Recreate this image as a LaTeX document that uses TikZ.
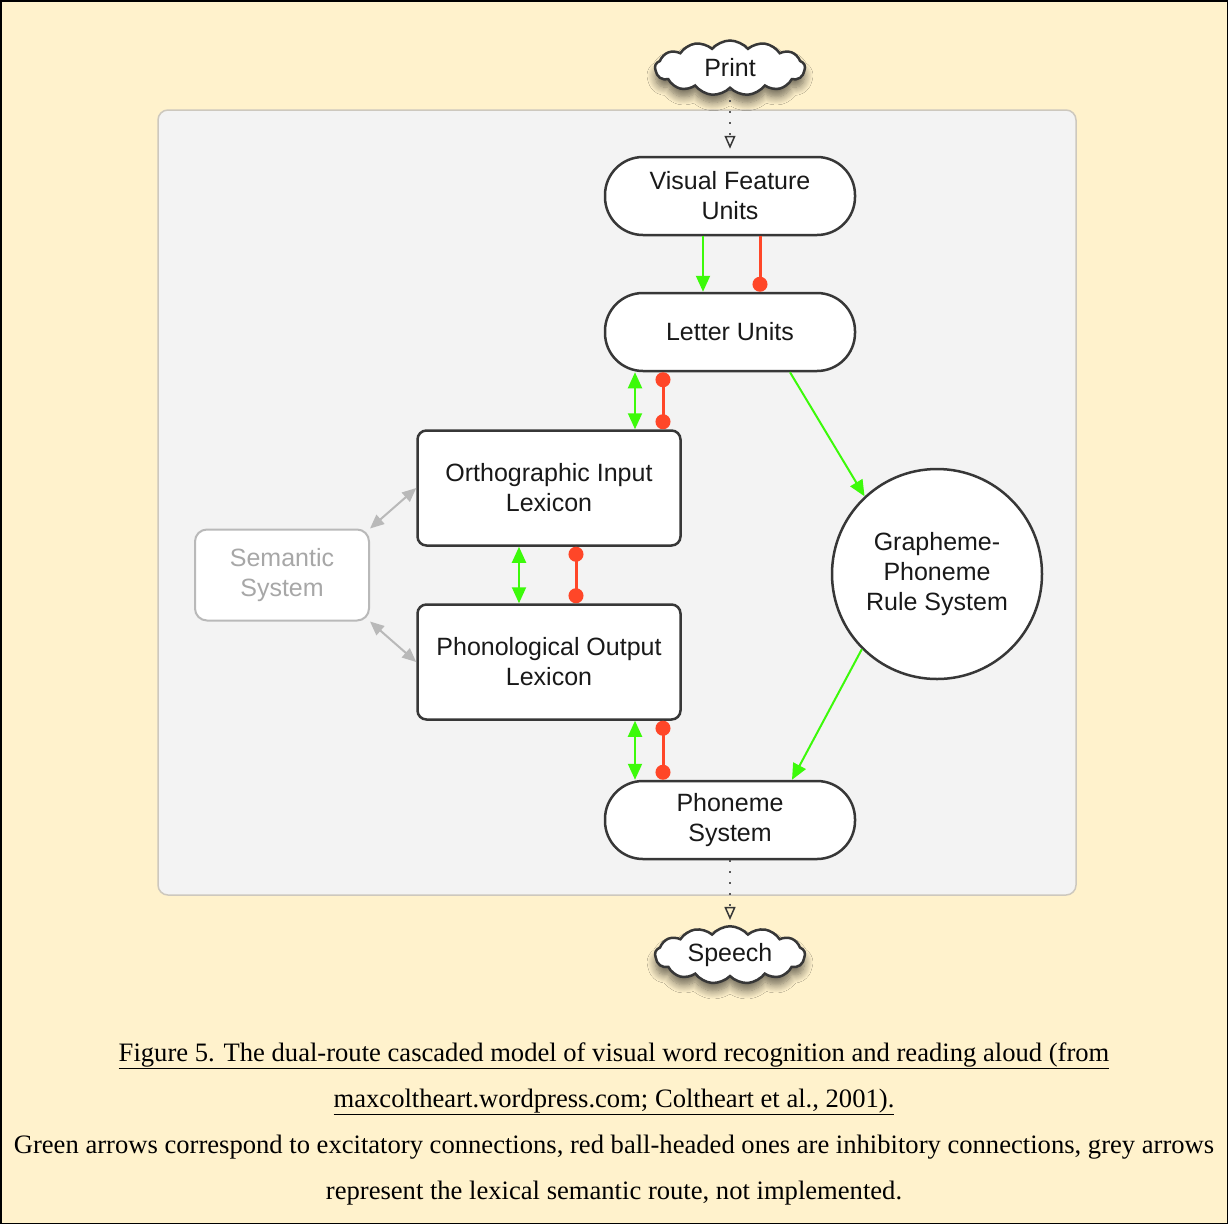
\documentclass[tikz,border=0pt]{standalone}
\usepackage{fontspec}
\setmainfont{Liberation Serif}
\newfontfamily\nodefont{Liberation Sans}
\usetikzlibrary{arrows.meta,shapes.symbols,shadows.blur}
\definecolor{bgyellow}{RGB}{255,242,204}
\definecolor{panelgray}{RGB}{243,243,243}
\definecolor{panelborder}{RGB}{205,200,190}
\definecolor{exgreen}{RGB}{60,250,10}
\definecolor{inred}{RGB}{255,70,40}
\definecolor{semgray}{RGB}{185,185,185}
\definecolor{nodeborder}{RGB}{55,55,55}
\tikzset{
  nodetext/.style={font=\nodefont\fontsize{25}{30}\selectfont, text=black!90, align=center},
  pill/.style={nodetext, draw=nodeborder, line width=2.5pt, fill=white, rounded corners=38pt, minimum width=250pt, minimum height=78pt},
  lexbox/.style={nodetext, draw=nodeborder, line width=2.5pt, fill=white, rounded corners=9pt, minimum width=263pt, minimum height=115pt},
  sembox/.style={nodetext, draw=semgray, line width=2pt, fill=white, rounded corners=12pt, minimum width=174pt, minimum height=91pt, text=semgray!90!black},
  ruleball/.style={nodetext, circle, draw=nodeborder, line width=2.5pt, fill=white, minimum size=210pt, inner sep=0pt},
  cloudnode/.style={nodetext, cloud, cloud puffs=13, cloud puff arc=100, aspect=2.8, draw=nodeborder, line width=2.5pt, fill=white, minimum width=150pt, minimum height=55pt, inner sep=2pt,
    blur shadow={shadow xshift=0pt, shadow yshift=-8pt, shadow blur radius=8pt, shadow blur steps=10, shadow opacity=55}},
  exc/.style={draw=exgreen, line width=2pt, -{Triangle[length=16pt,width=14pt]}},
  excboth/.style={draw=exgreen, line width=2pt, {Triangle[length=16pt,width=14pt]}-{Triangle[length=16pt,width=14pt]}},
  inh/.style={draw=inred, line width=3pt, -{Circle[length=15pt]}},
  inhboth/.style={draw=inred, line width=3pt, {Circle[length=15pt]}-{Circle[length=15pt]}},
  semarrow/.style={draw=semgray, line width=2pt, {Triangle[length=14pt,width=12pt]}-{Triangle[length=14pt,width=12pt]}},
  dotarrow/.style={draw=black!65, line width=2pt, dash pattern=on 2pt off 9pt, -{Triangle[open,length=13pt,width=11pt,line width=1.5pt,color=nodeborder]}},
}
\begin{document}
\begin{tikzpicture}[x=1pt,y=-1pt]
\useasboundingbox (0,0) rectangle (1228,1224);
\fill[bgyellow] (0,0) rectangle (1228,1224);
\draw[black, line width=1.5pt] (0.75,0.75) rectangle (1227.25,1223.25);
% panel
\draw[fill=panelgray, draw=panelborder, line width=1.5pt, rounded corners=10pt] (158,110) rectangle (1076,895);

% nodes
\node[cloudnode] (print) at (730,68) {Print};
\node[pill] (vfu) at (730,196) {Visual Feature\\Units};
\node[pill] (letter) at (730,332) {Letter Units};
\node[lexbox] (oil) at (549,488) {Orthographic Input\\Lexicon};
\node[lexbox] (pol) at (549,662) {Phonological Output\\Lexicon};
\node[sembox] (sem) at (282,575) {Semantic\\System};
\node[ruleball] (gpc) at (937,574) {Grapheme-\\Phoneme\\Rule System};
\node[pill] (phon) at (730,820) {Phoneme\\System};
\node[cloudnode] (speech) at (730,955) {Speech};

% dotted input/output
\draw[dotarrow, shorten >=7pt] (print.south) -- (vfu.north);
\draw[dotarrow, shorten >=5pt] (phon.south) -- (speech.north);

% VFU -> Letter
\draw[exc] ([xshift=-27pt]vfu.south) -- ([xshift=-27pt]letter.north);
\draw[inh] ([xshift=30pt]vfu.south) -- ([xshift=30pt]letter.north);

% Letter <-> OIL
\draw[excboth] ([xshift=-95pt]letter.south) -- ([xshift=-95pt]letter.south |- oil.north);
\draw[inhboth] ([xshift=-67pt]letter.south) -- ([xshift=-67pt]letter.south |- oil.north);

% OIL <-> POL
\draw[excboth] ([xshift=-30pt]oil.south) -- ([xshift=-30pt]pol.north);
\draw[inhboth] ([xshift=27pt]oil.south) -- ([xshift=27pt]pol.north);

% POL <-> Phoneme
\draw[excboth] ([xshift=-95pt]phon.north |- pol.south) -- ([xshift=-95pt]phon.north);
\draw[inhboth] ([xshift=-67pt]phon.north |- pol.south) -- ([xshift=-67pt]phon.north);

% GPC route
\draw[exc] ([xshift=60pt]letter.south) -- (gpc.133);
\draw[exc] (gpc.225) -- ([xshift=62pt]phon.north);

% semantic route
\draw[semarrow] (sem.north east) -- (oil.west);
\draw[semarrow] (sem.south east) -- (pol.west);

% caption
\node[font=\fontsize{26.6}{46}\selectfont, align=center, text=black] (caption) at (614,1124)
 {\underline{Figure 5. The dual-route cascaded model of visual word recognition and reading aloud (from}\\
  \underline{maxcoltheart.wordpress.com; Coltheart et al., 2001).}\\
  Green arrows correspond to excitatory connections, red ball-headed ones are inhibitory connections, grey arrows\\
  represent the lexical semantic route, not implemented.};
\end{tikzpicture}
\end{document}
